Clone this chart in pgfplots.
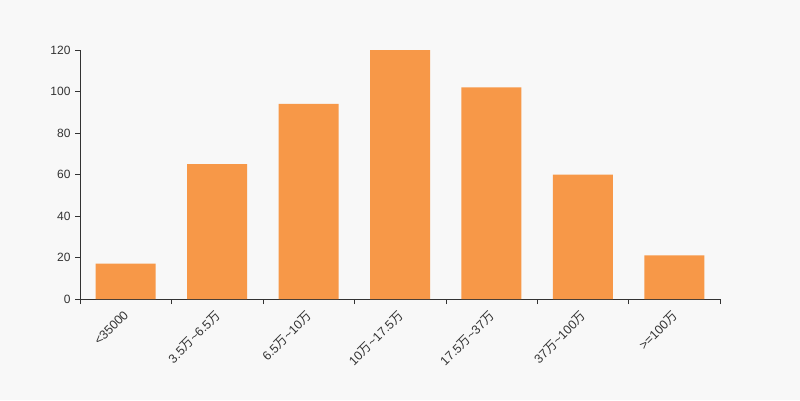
\documentclass[border=0pt]{standalone}
\usepackage{pgfplots}
\pgfplotsset{compat=1.18}
\usepackage{fontspec}
\setmainfont{Liberation Sans}
\newfontfamily\cjk{Noto Sans CJK SC}
\newcommand\W{{\cjk 万}}
\definecolor{bg}{RGB}{248,248,248}
\definecolor{barc}{RGB}{247,152,72}
\definecolor{txt}{RGB}{51,51,51}
\begin{document}
\begin{tikzpicture}[x=1pt,y=1pt]
\fill[bg] (0,0) rectangle (800,400);
\begin{axis}[
  at={(80pt,101pt)}, anchor=south west,
  scale only axis, width=640pt, height=249pt,
  xmin=-0.5, xmax=6.5, ymin=0, ymax=120,
  axis lines=left, axis line style={txt, -},
  ytick={0,20,...,120},
  xtick={0,...,6},
  xticklabels={{<35000},{3.5\W\textasciitilde6.5\W},{6.5\W\textasciitilde10\W},{10\W\textasciitilde17.5\W},{17.5\W\textasciitilde37\W},{37\W\textasciitilde100\W},{>=100\W}},
  minor xtick={-0.5,0.5,...,6.5},
  major x tick style={draw=none},
  minor tick length=5pt,
  major tick length=5pt,
  tick align=outside,
  tick style={txt},
  x tick label style={font=\fontsize{12.5}{12.5}\selectfont, text=txt, rotate=45, anchor=north east, inner sep=0pt, yshift=-2pt, xshift=-6pt},
  y tick label style={font=\fontsize{12}{12}\selectfont, text=txt, xshift=-1pt},
  /pgf/number format/assume math mode=true,
  ybar, bar width=60pt,
  axis background/.style={fill=bg},
  clip=false,
]
\addplot[fill=barc, draw=none] coordinates {(0,17) (1,65) (2,94) (3,120) (4,102) (5,60) (6,21)};
\end{axis}
\end{tikzpicture}
\end{document}
